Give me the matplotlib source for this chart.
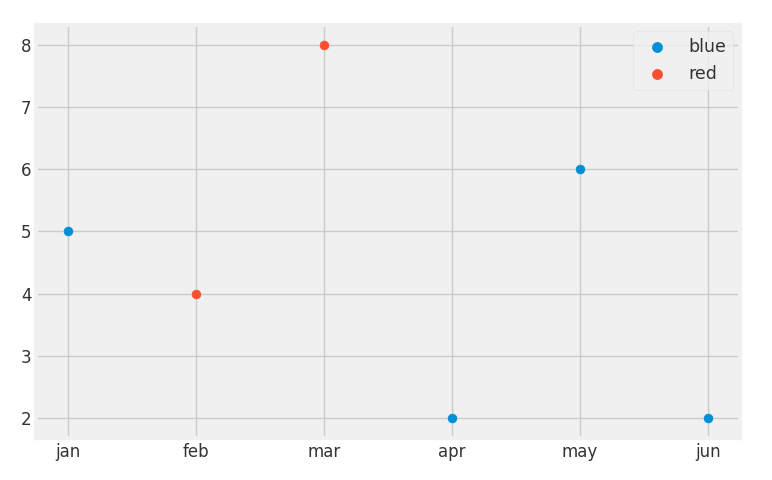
import matplotlib
matplotlib.use('Agg')
import matplotlib.pyplot as plt

plt.style.use('fivethirtyeight')

months = ['jan', 'feb', 'mar', 'apr', 'may', 'jun']
blue_months = ['jan', 'apr', 'may', 'jun']
blue_vals = [5, 2, 6, 2]
red_months = ['feb', 'mar']
red_vals = [4, 8]

fig, ax = plt.subplots(figsize=(7.72, 4.8), dpi=100)
fig.patch.set_facecolor('white')
ax.set_facecolor('#f0f0f0')

# fix category order first
ax.plot(months, [None] * len(months), alpha=0)
ax.scatter(blue_months, blue_vals, color='#008fd5', s=40, label='blue', zorder=3)
ax.scatter(red_months, red_vals, color='#fc4f30', s=40, label='red', zorder=3)

ax.tick_params(labelsize=12, labelcolor='#333333')
ax.set_ylim(1.68, 8.32)
leg = ax.legend(loc='upper right', fontsize=12.5, frameon=True, facecolor='#f0f0f0',
                edgecolor='#e0e0e0', markerscale=1.15, borderaxespad=0.35)
for t in leg.get_texts():
    t.set_color('#333333')

fig.subplots_adjust(left=0.047, right=0.958, top=0.948, bottom=0.088)
fig.savefig('out.png', facecolor=fig.get_facecolor())
